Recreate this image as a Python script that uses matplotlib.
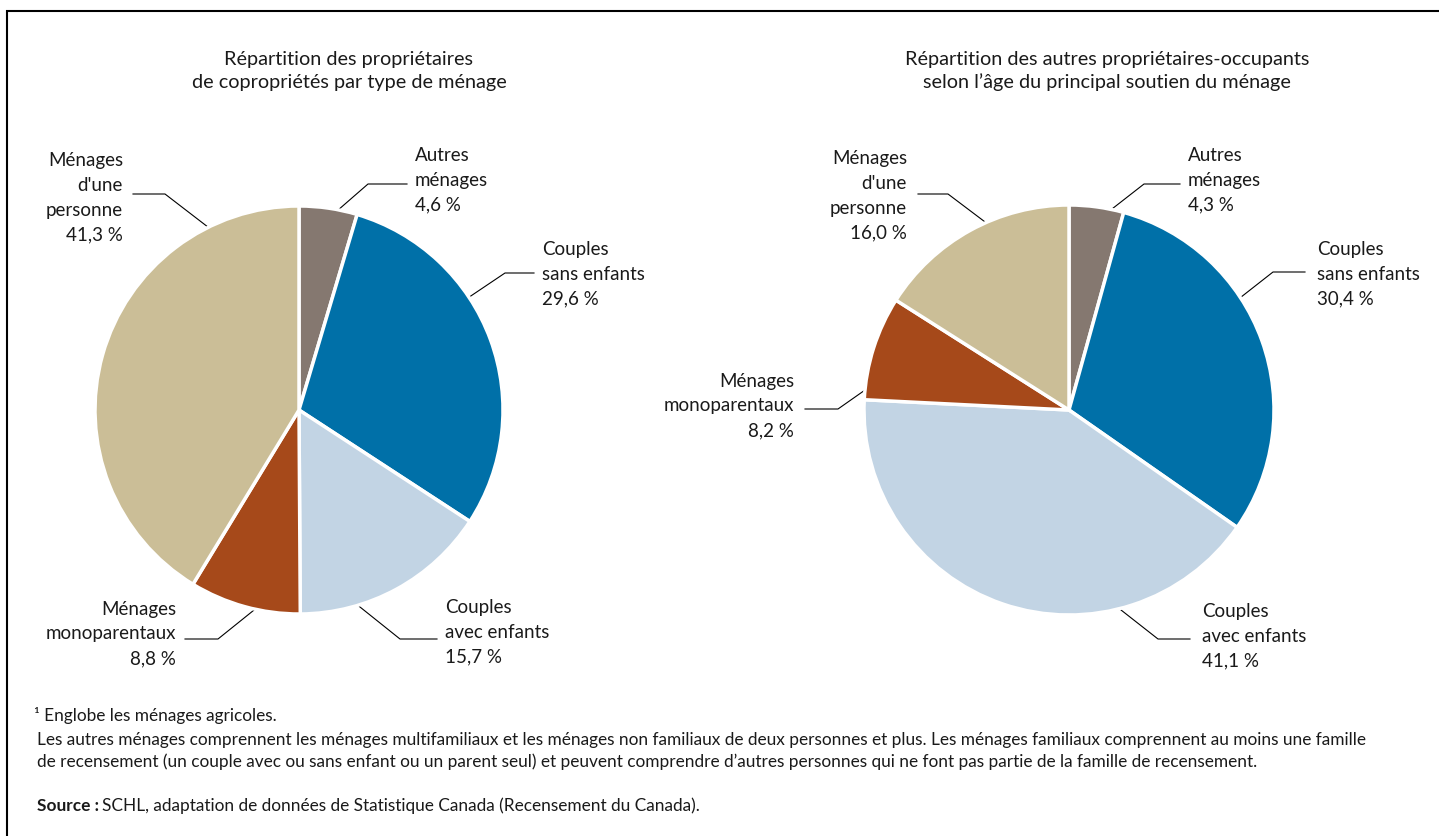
import numpy as np
import matplotlib.pyplot as plt

plt.rcParams['font.family'] = ['Lato', 'DejaVu Sans']

W, H = 1439, 837

# segments, clockwise from 12 o'clock
categories = ["Autres\nménages", "Couples\nsans enfants", "Couples\navec enfants",
              "Ménages\nmonoparentaux", "Ménages\nd'une\npersonne"]
condo_share = [4.6, 29.6, 15.7, 8.8, 41.3]
other_share = [4.3, 30.4, 41.1, 8.2, 16.0]
colors = ["#857870", "#0070A8", "#C2D4E4", "#A6491A", "#CBBE97"]

condo_title = "Répartition des propriétaires\nde copropriétés par type de ménage"
other_title = "Répartition des autres propriétaires-occupants\nselon l’âge du principal soutien du ménage"

fig = plt.figure(figsize=(W / 100, H / 100), dpi=100)

# overlay in pixel units for text, leader lines and frame
over = fig.add_axes([0, 0, 1, 1])
over.set_xlim(0, W)
over.set_ylim(H, 0)
over.axis("off")


def pie_axes(cx, cy, r):
    ax = fig.add_axes([(cx - r) / W, 1 - (cy + r) / H, 2 * r / W, 2 * r / H])
    ax.axis("off")
    return ax


# label layout: (text x, text y, ha, leader points)
condo_layout = [
    (415, 180, "left", [(322, 225), (368, 185), (407, 185)]),
    (542, 274, "left", [(447, 313), (505, 274), (534, 274)]),
    (445, 632, "left", [(350, 600), (400, 640), (437, 640)]),
    (176, 634, "right", [(269, 599), (218, 640), (185, 640)]),
    (123, 198, "right", [(217, 235), (165, 195), (133, 195)]),
]
other_layout = [
    (1188, 180, "left", [(1094, 224), (1144, 185), (1180, 185)]),
    (1317, 274, "left", [(1222, 313), (1273, 273), (1305, 273)]),
    (1202, 636, "left", [(1107, 600), (1158, 640), (1190, 640)]),
    (794, 406, "right", [(885, 377), (838, 410), (805, 410)]),
    (907, 196, "right", [(1001, 235), (948, 195), (918, 195)]),
]


def draw_pie(cx, cy, r, values, layout, title, tx):
    ax = pie_axes(cx, cy, r)
    ax.pie(values, colors=colors, startangle=90, counterclock=False, radius=1,
           wedgeprops=dict(edgecolor="white", linewidth=2.5))
    ax.set_xlim(-1, 1)
    ax.set_ylim(-1, 1)
    ax.set_aspect("equal")
    for cat, v, (x, y, ha, pts) in zip(categories, values, layout):
        lab = f"{cat}\n{v:.1f} %".replace(".", ",")
        over.text(x, y, lab, ha=ha, va="center", fontsize=13.5, color="#1a1a1a",
                  multialignment=ha, linespacing=1.55)
        px, py = zip(*pts)
        over.plot(px, py, color="black", lw=0.8)
    over.text(tx, 71, title, ha="center", va="center", fontsize=14.3,
              color="#1a1a1a", linespacing=1.38)


draw_pie(299, 411, 204, condo_share, condo_layout, condo_title, 349)
draw_pie(1069, 411, 205, other_share, other_layout, other_title, 1107)

# frame (left and top edges)
over.plot([7, 7, W], [H, 12, 12], color="black", lw=1.5, solid_joinstyle="miter")

# notes
note_kw = dict(fontsize=12.45, color="#1a1a1a", va="center", ha="left")
over.text(34, 716, "¹ Englobe les ménages agricoles.", **note_kw)
over.text(37, 740, "Les autres ménages comprennent les ménages multifamiliaux et les ménages "
          "non familiaux de deux personnes et plus. Les ménages familiaux comprennent "
          "au moins une famille", **note_kw)
over.text(37, 762, "de recensement (un couple avec ou sans enfant ou un parent seul) et peuvent "
          "comprendre d’autres personnes qui ne font pas partie de la famille de recensement.",
          **note_kw)
src = over.text(37, 806, "Source :", fontweight="bold", **note_kw)
fig.canvas.draw()
bb = src.get_window_extent()
x_end = over.transData.inverted().transform((bb.x1, bb.y0))[0]
over.text(x_end + 3, 806, "SCHL, adaptation de données de Statistique Canada "
          "(Recensement du Canada).", **note_kw)

fig.savefig("out.png", dpi=100)
